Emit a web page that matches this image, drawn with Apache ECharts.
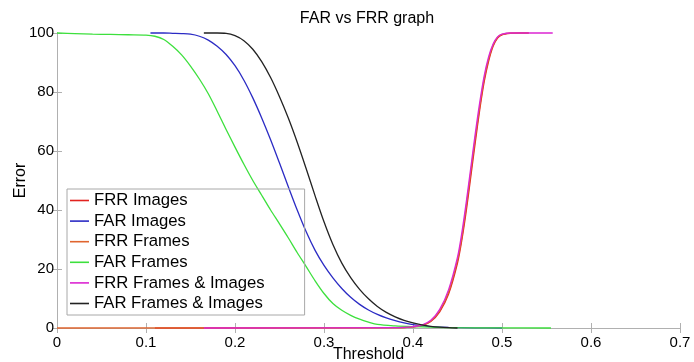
<!DOCTYPE html>
<html>
<head>
<meta charset="utf-8">
<script src="https://cdn.jsdelivr.net/npm/echarts@6/dist/echarts.min.js"></script>
<style>
html,body{margin:0;padding:0;background:#fff;}
#chart{width:694px;height:362px;}
</style>
</head>
<body>
<div id="chart"></div>
<script>
var xTickLabels = ['0','0.1','0.2','0.3','0.4','0.5','0.6','0.7'];
var yTickLabels = ['0','20','40','60','80','100'];
var seriesNames = ['FRR Images','FAR Images','FRR Frames','FAR Frames','FRR Frames & Images','FAR Frames & Images'];

var frrImagesX = [0.11,0.38,0.4,0.41,0.42,0.43,0.44,0.45,0.455,0.46,0.465,0.47,0.475,0.48,0.485,0.49,0.495,0.5,0.51,0.52,0.53];
var frrImagesY = [0,0.1,0.4,0.8,2.2,5.5,11.5,22,30,40,51.5,63,74,83.5,90.5,95.5,98.3,99.4,99.9,100,100];

var farImagesX = [0.105,0.12,0.13,0.14,0.15,0.16,0.17,0.18,0.19,0.2,0.21,0.22,0.23,0.24,0.25,0.26,0.27,0.28,0.29,0.3,0.31,0.32,0.33,0.34,0.35,0.36,0.37,0.38,0.39,0.4,0.41,0.42,0.44,0.47,0.5];
var farImagesY = [100,100,99.9,99.8,99.6,98.9,97.6,95.5,92.7,88.9,84.0,78.0,71.2,63.8,55.9,47.8,39.9,32.6,26.3,21.2,17.0,13.4,10.4,8.0,6.1,4.6,3.4,2.5,1.75,1.15,0.75,0.45,0.2,0.05,0];

var frrFramesX = [0,0.38,0.4,0.41,0.42,0.43,0.44,0.45,0.455,0.46,0.465,0.47,0.475,0.48,0.485,0.49,0.495,0.5,0.51,0.52,0.53];
var frrFramesY = [0,0.1,0.4,0.9,2.4,5.9,12.2,23,31,41.5,53,64.5,75,84.5,91.2,95.9,98.5,99.5,100,100,100];

var farFramesX = [0,0.02,0.04,0.06,0.08,0.1,0.11,0.12,0.13,0.14,0.15,0.16,0.17,0.18,0.19,0.2,0.21,0.22,0.23,0.24,0.25,0.26,0.27,0.28,0.29,0.3,0.31,0.32,0.33,0.34,0.35,0.36,0.38,0.4,0.42,0.45,0.5,0.555];
var farFramesY = [100,99.8,99.6,99.5,99.4,99.3,98.9,97.8,95.5,92.6,88.8,84.4,79.4,73.5,67.3,61.3,55.5,50,45,40,35.3,30.5,25.5,20.8,16,11.7,8.3,6.0,4.3,3.0,2.0,1.2,0.7,0.45,0.3,0.1,0.05,0];

var frrBothX = [0.165,0.38,0.4,0.41,0.42,0.43,0.44,0.45,0.455,0.46,0.465,0.47,0.475,0.48,0.485,0.49,0.495,0.5,0.51,0.52,0.557];
var frrBothY = [0,0.1,0.5,1.0,2.6,6.3,13,24,32.5,43,54.5,66,76.5,85.5,92,96.3,98.7,99.6,100,100,100];

var farBothX = [0.165,0.18,0.19,0.2,0.21,0.22,0.23,0.24,0.25,0.26,0.27,0.28,0.29,0.3,0.31,0.32,0.33,0.34,0.35,0.36,0.37,0.38,0.39,0.4,0.41,0.42,0.43,0.44,0.45];
var farBothY = [100,100,99.9,99.1,97.4,94.5,90.3,84.9,78.4,71.1,62.9,54.0,44.8,36.0,28.3,22.0,17.1,13.1,9.9,7.3,5.3,3.8,2.6,1.7,1.03,0.56,0.27,0.1,0];

var seriesColors = ['#e2231f','#2b2bc4','#e0652f','#3de03d','#dc26d2','#222222'];

function pairs(xs, ys){ return xs.map(function(x,i){ return [x, ys[i]]; }); }
var allData = [
  pairs(frrImagesX, frrImagesY),
  pairs(farImagesX, farImagesY),
  pairs(frrFramesX, frrFramesY),
  pairs(farFramesX, farFramesY),
  pairs(frrBothX, frrBothY),
  pairs(farBothX, farBothY)
];

var FONT = '"Liberation Sans", Arial, sans-serif';
var axisGray = '#b0b0b0';

var chart = echarts.init(document.getElementById('chart'), null, {renderer:'canvas'});
var option = {
  animation: false,
  backgroundColor: '#fff',
  textStyle: {fontFamily: FONT},
  title: {
    text: 'FAR vs FRR graph',
    left: 362, top: 6, textAlign: 'center',
    textStyle: {fontSize: 16, fontWeight: 'normal', color: '#000', fontFamily: FONT}
  },
  grid: {left: 57, right: 14, top: 33, bottom: 34, containLabel: false, outerBoundsMode: 'none'},
  legend: {
    orient: 'vertical', left: 67, top: 189,
    padding: [3, 40, 3, 3],
    icon: 'rect',
    itemWidth: 19, itemHeight: 1.6, itemGap: 3.6,
    borderColor: '#a8a8a8', borderWidth: 1, backgroundColor: 'transparent',
    textStyle: {fontSize: 16.7, lineHeight: 16, color: '#000', fontFamily: FONT},
    data: seriesNames
  },
  xAxis: [{
    type: 'value', min: 0, max: 0.7, interval: 0.1, position: 'bottom',
    name: 'Threshold', nameLocation: 'middle', nameGap: 19, nameMoveOverlap: false,
    nameTextStyle: {fontSize: 16, color: '#000', fontFamily: FONT},
    axisLine: {show: true, lineStyle: {color: axisGray, width: 1}},
    axisTick: {show: true, inside: true, length: 5, lineStyle: {color: axisGray}},
    axisLabel: {fontSize: 15, color: '#000', margin: 7, fontFamily: FONT,
      formatter: function(v, i){ return xTickLabels[i]; }},
    splitLine: {show: false}
  },{
    type: 'value', min: 0, max: 0.7, interval: 0.1, position: 'top',
    axisLine: {show: true, lineStyle: {color: axisGray, width: 1}},
    axisTick: {show: true, inside: true, length: 5, lineStyle: {color: axisGray}},
    axisLabel: {show: false}, splitLine: {show: false}
  }],
  yAxis: [{
    type: 'value', min: 0, max: 100, interval: 20, position: 'left',
    name: 'Error', nameLocation: 'middle', nameGap: 28, nameRotate: 90, nameMoveOverlap: false,
    nameTextStyle: {fontSize: 16, color: '#000', fontFamily: FONT},
    axisLine: {show: true, lineStyle: {color: axisGray, width: 1}},
    axisTick: {show: true, inside: true, length: 5, lineStyle: {color: axisGray}},
    axisLabel: {fontSize: 15, color: '#000', margin: 3, fontFamily: FONT,
      formatter: function(v, i){ return yTickLabels[i]; }},
    splitLine: {show: false}
  },{
    type: 'value', min: 0, max: 100, interval: 20, position: 'right',
    axisLine: {show: true, lineStyle: {color: axisGray, width: 1}},
    axisTick: {show: true, inside: true, length: 5, lineStyle: {color: axisGray}},
    axisLabel: {show: false}, splitLine: {show: false}
  }],
  series: seriesNames.map(function(name, i){
    return {
      name: name, type: 'line', data: allData[i],
      xAxisIndex: 0, yAxisIndex: 0,
      symbol: 'none', showSymbol: false,
      smooth: 0.3, clip: false,
      color: seriesColors[i],
      lineStyle: {color: seriesColors[i], width: 1.3}
    };
  })
};
chart.setOption(option);
</script>
</body>
</html>
